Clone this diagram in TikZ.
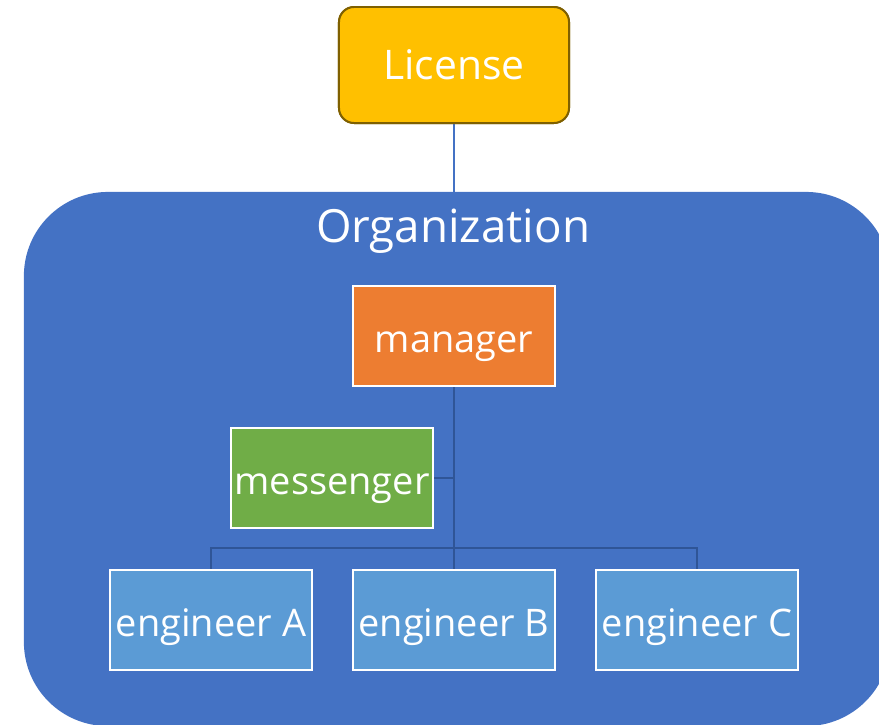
\documentclass[tikz,border=0pt]{standalone}
\usepackage{fontspec}
\setmainfont{Open Sans}
\usetikzlibrary{positioning}

\definecolor{licfill}{HTML}{FFC000}
\definecolor{licdraw}{HTML}{7F6000}
\definecolor{orgfill}{HTML}{4472C4}
\definecolor{mgrfill}{HTML}{ED7D31}
\definecolor{msgfill}{HTML}{70AD47}
\definecolor{engfill}{HTML}{5B9BD5}
\definecolor{linkcol}{HTML}{2F5597}

\tikzset{
  licbox/.style={draw=licdraw, line width=1.4pt, fill=licfill, rounded corners=0.38cm,
    minimum width=5.75cm, minimum height=2.9cm, text=white, font=\fontsize{29}{34}\selectfont},
  rolebox/.style={draw=white, line width=2pt, minimum width=5.05cm, minimum height=2.5cm,
    text=white, inner sep=0pt, text height=1.0cm, text depth=0.2cm,
    font=\fontsize{27}{32}\selectfont},
  link/.style={draw=linkcol, line width=2pt}
}

\begin{document}
\begin{tikzpicture}[x=0.025cm, y=-0.025cm]
				\useasboundingbox (0,0) rectangle (879,724);
				\begin{scope}
				\clip (0,0) rectangle (879,724);
				\node[fill=orgfill, rounded corners=2.1cm, minimum width=21.65cm, minimum height=13.35cm] (orgbg) at (457,459) {};
				\end{scope}
				\node[text=white, anchor=base, font=\fontsize{32.5}{38}\selectfont] (org) at (453,242) {Organization};
				\node[licbox] (license) at (454,65) {License};
				\node[rolebox, fill=mgrfill] (manager) at (454,336) {manager};
				\node[rolebox, fill=msgfill] (messenger) at (332,478) {messenger};
				\node[rolebox, fill=engfill] (engA) at (211,620) {engineer A};
				\node[rolebox, fill=engfill] (engB) at (454,620) {engineer B};
				\node[rolebox, fill=engfill] (engC) at (697,620) {engineer C};
				\coordinate (bus) at (454,548);
				\draw[draw=orgfill, line width=1.2pt] (license) -- (orgbg.north -| license);
				\draw[link] (manager) -- (bus);
				\draw[link] (messenger.east) -- (messenger.east -| manager);
				\draw[link] (engA) |- (bus) -| (engC);
				\draw[link] (bus) -- (engB);
				% redraw boxes over the links
				\node[rolebox, fill=mgrfill] at (manager) {manager};
				\node[rolebox, fill=msgfill] at (messenger) {messenger};
				\node[rolebox, fill=engfill] at (engA) {engineer A};
				\node[rolebox, fill=engfill] at (engB) {engineer B};
				\node[rolebox, fill=engfill] at (engC) {engineer C};
				\node[licbox] at (license) {License};
			\end{tikzpicture}
\end{document}
